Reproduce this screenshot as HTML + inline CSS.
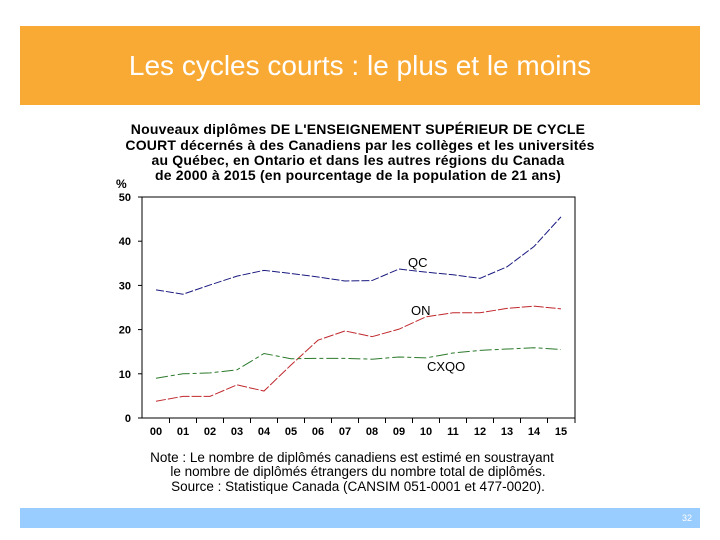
<!DOCTYPE html>
<html><head><meta charset="utf-8"><style>
body{margin:0;width:720px;height:540px;background:#fff;position:relative;overflow:hidden;font-family:"Liberation Sans",sans-serif}
#banner{position:absolute;left:20px;top:26px;width:680px;height:79px;background:#F9AA35}
#banner div{position:absolute;left:0;right:0;top:24px;text-align:center;color:#fff;font-size:28px}
#footer{position:absolute;left:20px;top:508px;width:680px;height:20px;background:#99CCFF}
#footer span{position:absolute;right:8px;top:5px;font-size:9px;color:#fff}
</style></head><body>
<div id="banner"><div>Les cycles courts : le plus et le moins</div></div>
<svg id="chart" width="720" height="540" style="position:absolute;left:0;top:0" font-family="Liberation Sans, sans-serif">
<g font-weight="bold" font-size="14" letter-spacing="0.2" text-anchor="middle">
<text x="358" y="134">Nouveaux diplômes DE L'ENSEIGNEMENT SUPÉRIEUR DE CYCLE</text>
<text x="360" y="150">COURT décernés à des Canadiens par les collèges et les universités</text>
<text x="358" y="165">au Québec, en Ontario et dans les autres régions du Canada</text>
<text x="358" y="180">de 2000 à 2015 (en pourcentage de la population de 21 ans)</text>
</g>
<text x="116" y="188" font-size="12" font-weight="bold">%</text>
<g font-size="13.5" text-anchor="middle">
<text x="352" y="462">Note : Le nombre de diplômés canadiens est estimé en soustrayant</text>
<text x="358" y="476">le nombre de diplômés étrangers du nombre total de diplômés.</text>
<text x="358" y="491">Source : Statistique Canada (CANSIM 051-0001 et 477-0020).</text>
</g>
<g id="plot"></g>
</svg>
<div id="footer"><span>32</span></div>
<script>
const years=["00","01","02","03","04","05","06","07","08","09","10","11","12","13","14","15"];
const yTicks=[0,10,20,30,40,50];
const qc=[29.0,28.0,30.1,32.1,33.4,32.7,31.9,31.0,31.1,33.7,33.0,32.4,31.6,34.2,38.8,45.5];
const on=[3.8,4.9,4.9,7.5,6.1,12.0,17.6,19.7,18.4,20.1,22.9,23.8,23.8,24.8,25.3,24.7];
const cxqo=[9.0,10.0,10.2,10.9,14.6,13.4,13.5,13.5,13.3,13.8,13.6,14.7,15.3,15.6,15.9,15.5];
const NS="http://www.w3.org/2000/svg";
const g=document.getElementById('plot');
const L=142,R=575,T=197,B=418;
const x=i=>156+i*(561-156)/(years.length-1);
const y=v=>B-(v/50)*(B-T);
function mk(t,a){const e=document.createElementNS(NS,t);for(const k in a)e.setAttribute(k,a[k]);g.appendChild(e);return e;}
const frame=mk('rect',{x:L,y:T,width:R-L,height:B-T,fill:'none',stroke:'#000','stroke-width':1});


yTicks.forEach(v=>{
 const t=mk('text',{x:131,y:y(v)+4,'font-size':11,'font-weight':600,'text-anchor':'end'});t.textContent=v;
 
 
 mk('line',{x1:L-4,x2:L,y1:y(v),y2:y(v),stroke:'#000'});
});
years.forEach((yr,i)=>{
 const t=mk('text',{x:x(i),y:435,'font-size':11,'font-weight':600,'text-anchor':'middle'});t.textContent=yr;
 
 
 const bx=(i<years.length-1)?(x(i)+x(i+1))/2:R;
 mk('line',{x1:bx,x2:bx,y1:B,y2:B+5,stroke:'#000'});
});
function series(d,c,dash,name,lbl,lx,ly){
 const p=mk('polyline',{points:d.map((v,i)=>x(i)+','+y(v)).join(' '),fill:'none',stroke:c,'stroke-width':1,'stroke-dasharray':dash});
 
 
 const t=mk('text',{x:lx,y:ly,'font-size':13});t.textContent=lbl;
 
 
}
series(qc,'#1a1a80','8,2','line-qc','QC',408,267);
series(on,'#c0282d','10,2','line-on','ON',411,315);
series(cxqo,'#2b7a2b','12,3,4,3','line-cxqo','CXQO',427,371);
</script>
</body></html>
